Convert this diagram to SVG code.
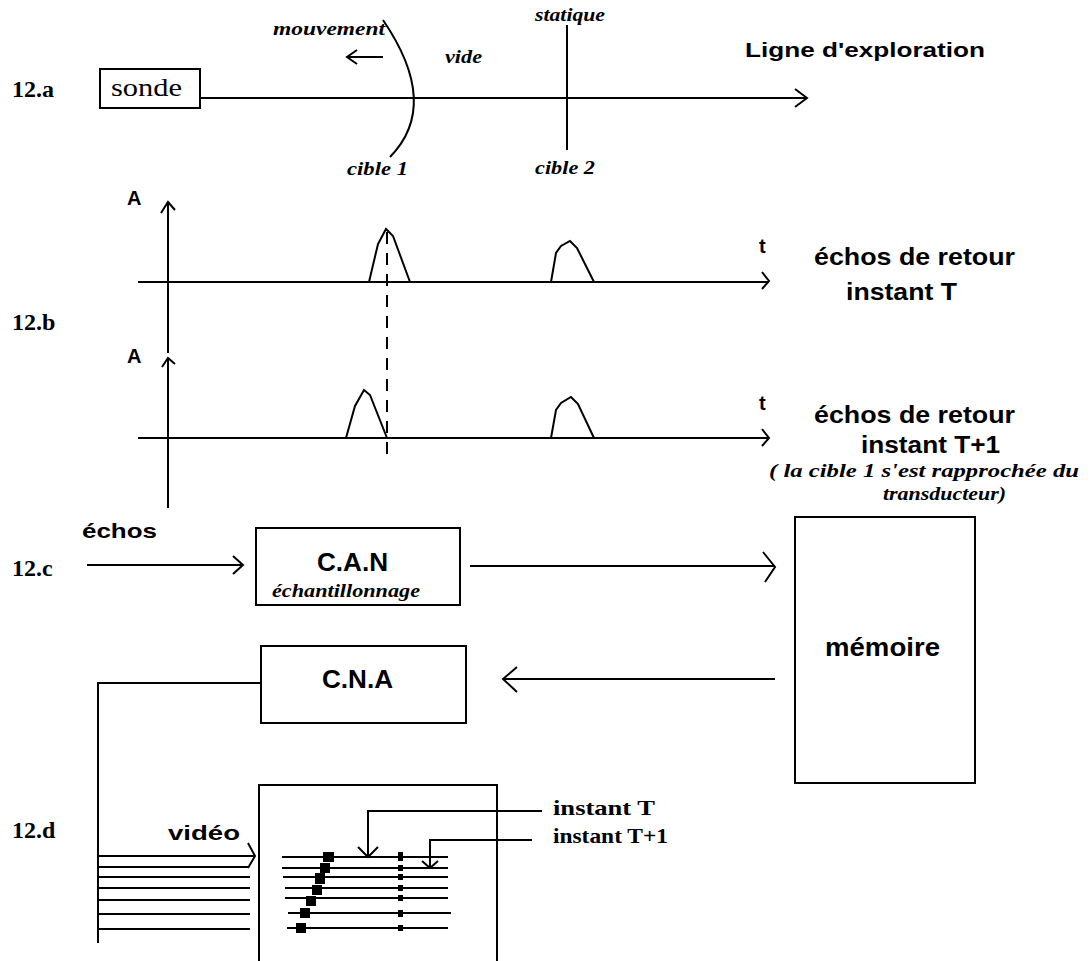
<svg xmlns="http://www.w3.org/2000/svg" width="1091" height="961" viewBox="0 0 1091 961">
<style>
.ln{fill:none;stroke:#000;stroke-width:2}
.box{fill:#fff;stroke:#000;stroke-width:2}
.dash{fill:none;stroke:#000;stroke-width:2;stroke-dasharray:12 9}
.lbl{font-family:"Liberation Serif","Times New Roman",serif;font-weight:bold;font-size:22px}
.sec{font-family:"Liberation Serif","Times New Roman",serif;font-weight:bold;font-size:24px}
.it{font-family:"Liberation Serif","Times New Roman",serif;font-style:italic;font-weight:bold;font-size:18px}
.sans{font-family:"Liberation Sans",Arial,sans-serif;font-weight:bold}
.big{font-size:26px}
.mid{font-size:23px}
.sm{font-size:20px}
.sq{fill:#000}
</style>
<rect width="1091" height="961" fill="#fff"/>

<g id="section-labels">
<text class="sec" x="12" y="97">12.a</text>
<text class="sec" x="12" y="330">12.b</text>
<text class="sec" x="12" y="576">12.c</text>
<text class="sec" x="12" y="838">12.d</text>
</g>

<g id="sonde">
<rect class="box" x="100" y="69" width="100" height="39"/>
<text x="111" y="96" font-family="Liberation Serif, serif" font-size="26" textLength="71" lengthAdjust="spacingAndGlyphs">sonde</text>
</g>

<g id="cible1">
<path class="ln" d="M383,20 Q441,105 390,157"/>
<text class="it" x="273" y="35" textLength="112" lengthAdjust="spacingAndGlyphs">mouvement</text>
<text class="it" x="347" y="175" textLength="61" lengthAdjust="spacingAndGlyphs">cible 1</text>
</g>

<g id="vide">
<text class="it" x="445" y="63" textLength="37" lengthAdjust="spacingAndGlyphs">vide</text>
</g>

<g id="cible2">
<path class="ln" d="M567,25 V150"/>
<text class="it" x="535" y="21" textLength="70" lengthAdjust="spacingAndGlyphs">statique</text>
<text class="it" x="535" y="174" textLength="60" lengthAdjust="spacingAndGlyphs">cible 2</text>
</g>

<g id="ligne-label">
<text class="sans" x="745" y="57" font-size="21" textLength="240" lengthAdjust="spacingAndGlyphs">Ligne d'exploration</text>
</g>

<g id="graph-T">
<text class="sans sm" x="127" y="205">A</text>
<text class="sans sm" x="759" y="253">t</text>
<path class="ln" d="M369,282 L378,244 L386,229 L393,236 L410,282"/>
<path class="ln" d="M551,282 L556,253 L561,246 L570,241 L577,248 L594,282"/>
<text class="sans mid" x="814" y="265" textLength="201" lengthAdjust="spacingAndGlyphs">échos de retour</text>
<text class="sans mid" x="846" y="300" textLength="111" lengthAdjust="spacingAndGlyphs">instant T</text>
</g>

<g id="graph-T1">
<text class="sans sm" x="127" y="363">A</text>
<text class="sans sm" x="759" y="410">t</text>
<path class="ln" d="M346,438 L355,406 L364,390 L370,395 L387,438"/>
<path class="ln" d="M551,438 L556,410 L561,403 L571,397 L578,404 L594,438"/>
<text class="sans mid" x="814" y="423" textLength="201" lengthAdjust="spacingAndGlyphs">échos de retour</text>
<text class="sans mid" x="861" y="453" textLength="139" lengthAdjust="spacingAndGlyphs">instant T+1</text>
<text class="it" x="769" y="477" textLength="310" lengthAdjust="spacingAndGlyphs">( la cible 1 s'est rapprochée du</text>
<text class="it" x="883" y="500" textLength="123" lengthAdjust="spacingAndGlyphs">transducteur)</text>
</g>

<g id="echos-input">
<text class="sans" x="82" y="538" font-size="21" textLength="75" lengthAdjust="spacingAndGlyphs">échos</text>
</g>

<g id="can">
<rect class="box" x="256" y="528" width="204" height="77"/>
<text class="sans big" x="317" y="571" textLength="71" lengthAdjust="spacingAndGlyphs">C.A.N</text>
<text class="it" x="272" y="597" textLength="148" lengthAdjust="spacingAndGlyphs">échantillonnage</text>
</g>

<g id="memoire">
<rect class="box" x="795" y="517" width="180" height="266"/>
<text class="sans big" x="825" y="656" textLength="115" lengthAdjust="spacingAndGlyphs">mémoire</text>
</g>

<g id="cna">
<rect class="box" x="261" y="646" width="205" height="77"/>
<text class="sans big" x="322" y="688" textLength="71" lengthAdjust="spacingAndGlyphs">C.N.A</text>
</g>

<g id="display">
<path class="ln" d="M259,961 V785 H497 V961"/>
<path class="ln" d="M282,857 H448 M282,868 H448 M283,877 H448 M285,888 H448 M285,898 H448 M288,913 H451 M287,928 H448"/>
<rect class="sq" x="323" y="852" width="11" height="10"/>
<rect class="sq" x="320" y="863" width="10" height="10"/>
<rect class="sq" x="315" y="873" width="10" height="11"/>
<rect class="sq" x="312" y="885" width="10" height="10"/>
<rect class="sq" x="306" y="896" width="10" height="10"/>
<rect class="sq" x="300" y="908" width="10" height="10"/>
<rect class="sq" x="296" y="923" width="10" height="10"/>
<rect class="sq" x="398" y="852" width="5" height="9"/>
<rect class="sq" x="398" y="865" width="5" height="6"/>
<rect class="sq" x="398" y="874" width="5" height="6"/>
<rect class="sq" x="398" y="885" width="5" height="6"/>
<rect class="sq" x="398" y="895" width="5" height="6"/>
<rect class="sq" x="398" y="910" width="5" height="7"/>
<rect class="sq" x="398" y="925" width="5" height="6"/>
<text class="lbl" x="553" y="815" textLength="102" lengthAdjust="spacingAndGlyphs">instant T</text>
<text class="lbl" x="553" y="843" textLength="115" lengthAdjust="spacingAndGlyphs">instant T+1</text>
<text class="sans" x="168" y="840" font-size="21" textLength="72" lengthAdjust="spacingAndGlyphs">vidéo</text>
</g>

<g id="connectors">
<path class="ln" d="M200,98 H807 M795,89 L807,98 L795,107"/>
<path class="ln" d="M383,57 H347 M357,50 L347,57 L357,64"/>
<path class="ln" d="M168,353 V202 M161,213 L168,202 L175,210"/>
<path class="ln" d="M138,282 H769 M762,272 L769,281 L762,289"/>
<path class="dash" d="M387,232 V463"/>
<path class="ln" d="M168,508 V358 M162,367 L168,358 L175,364"/>
<path class="ln" d="M138,438 H769 M762,429 L769,438 L762,446"/>
<path class="ln" d="M87,565 H243 M233,556 L243,565 L233,574"/>
<path class="ln" d="M470,566 H775 M763,552 L775,567 L765,582"/>
<path class="ln" d="M775,679 H503 M517,667 L503,679 L517,692"/>
<path class="ln" d="M261,683 H98 V943"/>
<path class="ln" d="M98,856 H255 M248,843 L255,856 L248,868 M98,867 H248 M98,877 H250 M98,888 H250 M98,900 H250 M98,914 H250 M98,929 H250"/>
<path class="ln" d="M542,811 H368 V857 M358,847 L368,857 L378,847"/>
<path class="ln" d="M532,840 H430 V868 M422,861 L430,868 L438,861"/>
</g>
</svg>
